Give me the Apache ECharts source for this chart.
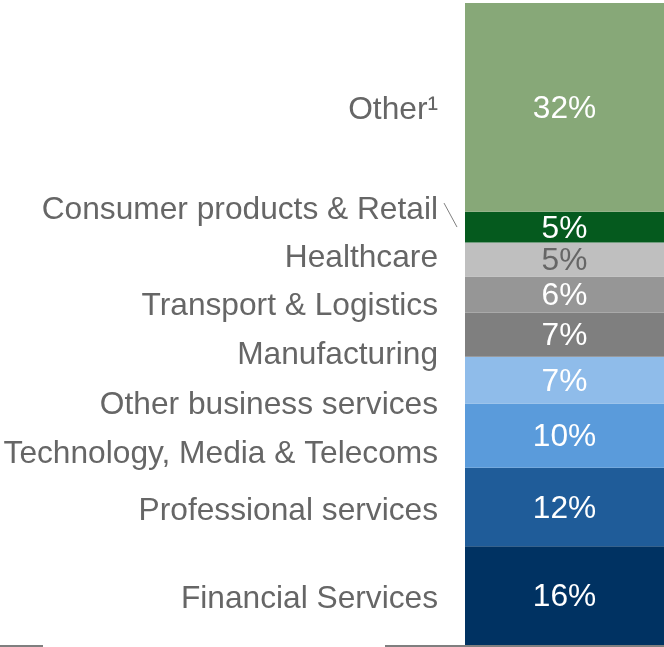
<!DOCTYPE html>
<html>
<head>
<meta charset="utf-8">
<script src="https://cdn.jsdelivr.net/npm/echarts@6/dist/echarts.min.js"></script>
<style>
  html, body { margin: 0; padding: 0; background: #fff; }
  #chart { width: 664px; height: 647px; }
</style>
</head>
<body>
<div id="chart"></div>
<script>
// segments listed bottom to top
const sectors = [
  'Financial Services',
  'Professional services',
  'Technology, Media & Telecoms',
  'Other business services',
  'Manufacturing',
  'Transport & Logistics',
  'Healthcare',
  'Consumer products & Retail',
  'Other¹'
];
const shares = [15.4, 12.2, 10.0, 7.3, 6.9, 5.6, 5.3, 4.8, 32.5];
const shareLabels = ['16%', '12%', '10%', '7%', '7%', '6%', '5%', '5%', '32%'];

const colors = ['#003262', '#1f5c99', '#5a9bdb', '#8fbcea', '#7f7f7f',
                '#969696', '#bfbfbf', '#055a1e', '#87a878'];
const font = "'Liberation Sans', Arial, sans-serif";
const grey = '#666666';
// vertical nudges of the sector names so they don't collide
const nameShift = [4, 4, 19, 25, 21, 12, -1, -17, 3];

var myChart = echarts.init(document.getElementById('chart'));

var series = [];
sectors.forEach(function (name, i) {
  series.push({
    name: name,
    type: 'bar',
    stack: 'mix',
    data: [shares[i]],
    barCategoryGap: '0%',
    barGap: '-100%',
    itemStyle: { color: colors[i] },
    label: {
      show: true,
      position: 'inside',
      offset: [0, 2],
      formatter: shareLabels[i],
      color: i === 6 ? grey : '#fff',
      fontSize: 31.7,
      fontFamily: font
    },
    silent: true
  });
});
sectors.forEach(function (name, i) {
  series.push({
    name: name + ' ',
    type: 'bar',
    stack: 'names',
    data: [shares[i]],
    barCategoryGap: '0%',
    barGap: '-100%',
    itemStyle: { color: 'rgba(0,0,0,0)' },
    label: {
      show: true,
      position: 'left',
      distance: 27,
      formatter: name,
      color: grey,
      fontSize: 31.7,
      fontFamily: font
    },
    labelLayout: { dy: nameShift[i] },
    silent: true
  });
});

var option = {
  animation: false,
  grid: { left: 465, right: 0, top: 3, bottom: 2 },
  xAxis: { type: 'category', data: [''], show: false },
  yAxis: { type: 'value', min: 0, max: 100, show: false },
  series: series
};
myChart.setOption(option);

// leader line for the consumer label + the broken base line
var consumer = 7;
var below = shares.slice(0, consumer).reduce(function (a, b) { return a + b; }, 0);
var yMid = myChart.convertToPixel({ yAxisIndex: 0 }, below + shares[consumer] / 2);
var yBase = myChart.convertToPixel({ yAxisIndex: 0 }, 0);
myChart.setOption({
  graphic: [
    { type: 'line', shape: { x1: 444, y1: yMid - 24, x2: 457, y2: yMid }, style: { stroke: '#7f7f7f', lineWidth: 1 } },
    { type: 'line', shape: { x1: 0, y1: yBase + 1, x2: 43, y2: yBase + 1 }, style: { stroke: '#7f7f7f', lineWidth: 2 } },
    { type: 'line', shape: { x1: 385, y1: yBase + 1, x2: 664, y2: yBase + 1 }, style: { stroke: '#7f7f7f', lineWidth: 2 } }
  ]
});
</script>
</body>
</html>
